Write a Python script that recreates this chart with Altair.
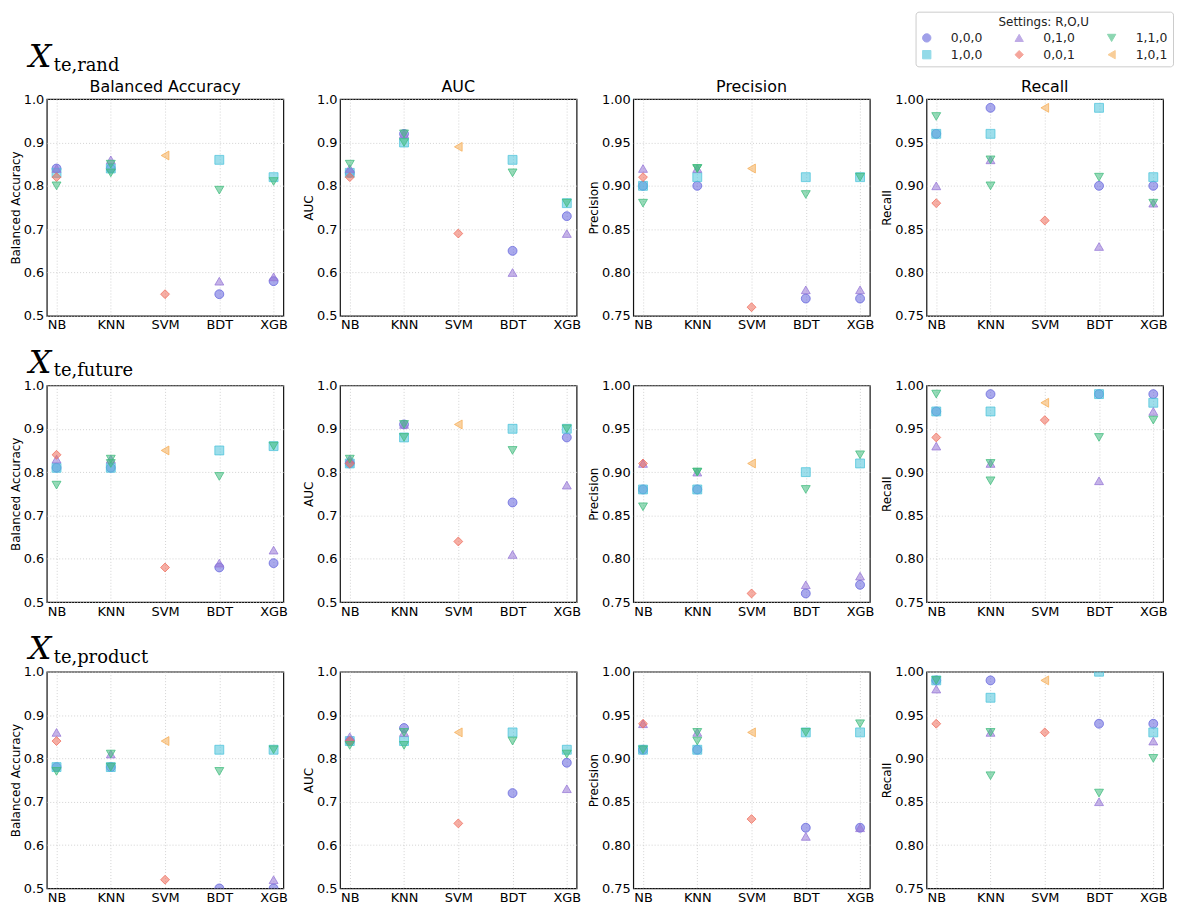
import altair as alt
import pandas as pd

N = None
MODELS = ["NB", "KNN", "SVM", "BDT", "XGB"]
# plotting order (also legend order, filled column by column)
SETTINGS = ["0,0,0", "1,0,0", "0,1,0", "0,0,1", "1,1,0", "1,0,1"]
COLORS = ["#6262dc", "#4cc3da", "#9575d6", "#ef6b5a", "#40bb7e", "#f5ad55"]
SHAPES = ["circle", "square", "triangle-up", "diamond", "triangle-down", "triangle-left"]

METRICS = ["Balanced Accuracy", "AUC", "Precision", "Recall"]
DATASETS = ["te,rand", "te,future", "te,product"]

# ---------------- X_te,rand ----------------
RAND_BA = {"0,0,0": [0.84, 0.84, N, 0.55, 0.58], "1,0,0": [0.83, 0.84, N, 0.86, 0.82],
           "0,1,0": [0.84, 0.86, N, 0.58, 0.59], "0,0,1": [0.82, N, 0.55, N, N],
           "1,1,0": [0.80, 0.83, N, 0.79, 0.81], "1,0,1": [N, N, 0.87, N, N]}
RAND_AUC = {"0,0,0": [0.83, 0.92, N, 0.65, 0.73], "1,0,0": [0.83, 0.90, N, 0.86, 0.76],
            "0,1,0": [0.84, 0.92, N, 0.60, 0.69], "0,0,1": [0.82, N, 0.69, N, N],
            "1,1,0": [0.85, 0.90, N, 0.83, 0.76], "1,0,1": [N, N, 0.89, N, N]}
RAND_PREC = {"0,0,0": [0.90, 0.90, N, 0.77, 0.77], "1,0,0": [0.90, 0.91, N, 0.91, 0.91],
             "0,1,0": [0.92, 0.92, N, 0.78, 0.78], "0,0,1": [0.91, N, 0.76, N, N],
             "1,1,0": [0.88, 0.92, N, 0.89, 0.91], "1,0,1": [N, N, 0.92, N, N]}
RAND_REC = {"0,0,0": [0.96, 0.99, N, 0.90, 0.90], "1,0,0": [0.96, 0.96, N, 0.99, 0.91],
            "0,1,0": [0.90, 0.93, N, 0.83, 0.88], "0,0,1": [0.88, N, 0.86, N, N],
            "1,1,0": [0.98, 0.90, N, 0.91, 0.88], "1,0,1": [N, N, 0.99, N, N]}

# ---------------- X_te,future ----------------
FUT_BA = {"0,0,0": [0.81, 0.81, N, 0.58, 0.59], "1,0,0": [0.81, 0.81, N, 0.85, 0.86],
          "0,1,0": [0.83, 0.83, N, 0.59, 0.62], "0,0,1": [0.84, N, 0.58, N, N],
          "1,1,0": [0.77, 0.82, N, 0.79, 0.86], "1,0,1": [N, N, 0.85, N, N]}
FUT_AUC = {"0,0,0": [0.82, 0.91, N, 0.73, 0.88], "1,0,0": [0.82, 0.88, N, 0.90, 0.90],
           "0,1,0": [0.83, 0.91, N, 0.61, 0.77], "0,0,1": [0.82, N, 0.64, N, N],
           "1,1,0": [0.83, 0.88, N, 0.85, 0.90], "1,0,1": [N, N, 0.91, N, N]}
FUT_PREC = {"0,0,0": [0.88, 0.88, N, 0.76, 0.77], "1,0,0": [0.88, 0.88, N, 0.90, 0.91],
            "0,1,0": [0.91, 0.90, N, 0.77, 0.78], "0,0,1": [0.91, N, 0.76, N, N],
            "1,1,0": [0.86, 0.90, N, 0.88, 0.92], "1,0,1": [N, N, 0.91, N, N]}
FUT_REC = {"0,0,0": [0.97, 0.99, N, 0.99, 0.99], "1,0,0": [0.97, 0.97, N, 0.99, 0.98],
           "0,1,0": [0.93, 0.91, N, 0.89, 0.97], "0,0,1": [0.94, N, 0.96, N, N],
           "1,1,0": [0.99, 0.89, N, 0.94, 0.96], "1,0,1": [N, N, 0.98, N, N]}

# ---------------- X_te,product ----------------
PROD_BA = {"0,0,0": [0.78, 0.78, N, 0.50, 0.50], "1,0,0": [0.78, 0.78, N, 0.82, 0.82],
           "0,1,0": [0.86, 0.81, N, N, 0.52], "0,0,1": [0.84, N, 0.52, N, N],
           "1,1,0": [0.77, 0.78, N, 0.77, 0.82], "1,0,1": [N, N, 0.84, N, N]}
PROD_AUC = {"0,0,0": [0.84, 0.87, N, 0.72, 0.79], "1,0,0": [0.84, 0.84, N, 0.86, 0.82],
            "0,1,0": [0.85, 0.86, N, N, 0.73], "0,0,1": [0.84, N, 0.65, N, N],
            "1,1,0": [0.83, 0.83, N, 0.84, 0.81], "1,0,1": [N, N, 0.86, N, N]}
PROD_PREC = {"0,0,0": [0.91, 0.91, N, 0.82, 0.82], "1,0,0": [0.91, 0.91, N, 0.93, 0.93],
             "0,1,0": [0.94, 0.93, N, 0.81, 0.82], "0,0,1": [0.94, N, 0.83, N, N],
             "1,1,0": [0.91, 0.92, N, 0.93, 0.94], "1,0,1": [N, N, 0.93, N, N]}
PROD_REC = {"0,0,0": [0.99, 0.99, N, 0.94, 0.94], "1,0,0": [0.99, 0.97, N, 1.00, 0.93],
            "0,1,0": [0.98, 0.93, N, 0.85, 0.92], "0,0,1": [0.94, N, 0.93, N, N],
            "1,1,0": [0.99, 0.88, N, 0.86, 0.90], "1,0,1": [N, N, 0.99, N, N]}

# second KNN (1,1,0) marker visible in each panel (BA, AUC, Precision, Recall)
KNN_EXTRA_RAND = [0.85, 0.92, 0.92, 0.93]
KNN_EXTRA_FUT = [0.83, 0.91, 0.90, 0.91]
KNN_EXTRA_PROD = [0.81, 0.86, 0.93, 0.93]

PANELS = [
    [RAND_BA, RAND_AUC, RAND_PREC, RAND_REC],
    [FUT_BA, FUT_AUC, FUT_PREC, FUT_REC],
    [PROD_BA, PROD_AUC, PROD_PREC, PROD_REC],
]
EXTRAS = [KNN_EXTRA_RAND, KNN_EXTRA_FUT, KNN_EXTRA_PROD]

Y_TICKS_A = [0.5, 0.6, 0.7, 0.8, 0.9, 1.0]
Y_TICKS_B = [0.75, 0.80, 0.85, 0.90, 0.95, 1.00]

FONT = "DejaVu Sans"
W, H = 238, 218

legend = alt.Legend(
    title="Settings: R,O,U", orient="none", legendX=874, legendY=-88, columns=3,
    titleFontSize=12, titleFontWeight="normal", titleFont=FONT, titleAnchor="middle",
    titleColor="#222", titlePadding=3, labelFontSize=12.5, labelFont=FONT,
    labelColor="#222", symbolSize=70, symbolOpacity=0.6, symbolStrokeWidth=1,
    labelOffset=18, columnPadding=30, rowPadding=4, padding=5,
    strokeColor="#cccccc", fillColor="white", cornerRadius=3,
)


def make_df(values, extra):
    rows = []
    for s in SETTINGS:
        for m, v in zip(MODELS, values[s]):
            if v is not None:
                rows.append({"model": m, "setting": s, "value": v})
    if extra is not None:
        rows.append({"model": "KNN", "setting": "1,1,0", "value": extra})
    return pd.DataFrame(rows)


charts = []
for r in range(3):
    for c in range(4):
        metric = METRICS[c]
        lo = 0.5 if c < 2 else 0.75
        ticks = Y_TICKS_A if c < 2 else Y_TICKS_B
        fmt = ".1f" if c < 2 else ".2f"
        df = make_df(PANELS[r][c], EXTRAS[r][c])
        pts = alt.Chart(df).mark_point(
            filled=True, size=80, fillOpacity=0.55, strokeOpacity=0.75,
            strokeWidth=1, clip=True,
        ).encode(
            x=alt.X("model:N", sort=MODELS,
                    scale=alt.Scale(domain=MODELS, padding=0.18),
                    axis=alt.Axis(title=None, labelAngle=0)),
            y=alt.Y("value:Q",
                    scale=alt.Scale(domain=[lo, 1.0], nice=False, zero=False),
                    axis=alt.Axis(values=ticks, format=fmt, title=metric)),
            color=alt.Color("setting:N",
                            scale=alt.Scale(domain=SETTINGS, range=COLORS),
                            legend=legend),
            shape=alt.Shape("setting:N",
                            scale=alt.Scale(domain=SETTINGS, range=SHAPES),
                            legend=legend),
            stroke=alt.Stroke("setting:N",
                              scale=alt.Scale(domain=SETTINGS, range=COLORS),
                              legend=None),
        )
        layers = [pts]
        if r == 0:
            ttl = alt.Chart(pd.DataFrame({"t": [metric]})).mark_text(
                font=FONT, fontSize=16, align="center", baseline="alphabetic",
                color="#000",
            ).encode(text="t:N", x=alt.value(W / 2), y=alt.value(-7))
            layers.append(ttl)
        if c == 0:
            yb = -32 if r == 0 else -13
            lab_df = pd.DataFrame({"big": ["X"], "sub": [DATASETS[r]]})
            big = alt.Chart(lab_df).mark_text(
                font="DejaVu Serif", fontStyle="italic", fontSize=32,
                align="left", baseline="alphabetic", color="#000",
            ).encode(text="big:N", x=alt.value(-18), y=alt.value(yb))
            sub = alt.Chart(lab_df).mark_text(
                font="DejaVu Serif", fontSize=18,
                align="left", baseline="alphabetic", color="#000",
            ).encode(text="sub:N", x=alt.value(7), y=alt.value(yb + 4))
            layers += [big, sub]
        panel = alt.layer(*layers).properties(width=W, height=H)
        charts.append(panel)

chart = alt.concat(
    *charts, columns=4, spacing={"row": 70, "column": 57}, bounds="flush",
).properties(
    padding={"left": 0, "top": 0, "right": 0, "bottom": 2},
).configure_view(
    stroke="#111", strokeWidth=1.2,
).configure_axis(
    labelFont=FONT, labelFontSize=13, labelColor="#000",
    titleFont=FONT, titleFontSize=12, titleFontWeight="normal", titleColor="#000",
    titlePadding=1, labelPadding=3,
    domain=False, ticks=False, grid=True, gridDash=[1, 2], gridColor="#c8c8c8",
    gridWidth=0.8, labelOverlap=False,
)

chart.save("out.html", embed_options={"renderer": "svg", "actions": False})
